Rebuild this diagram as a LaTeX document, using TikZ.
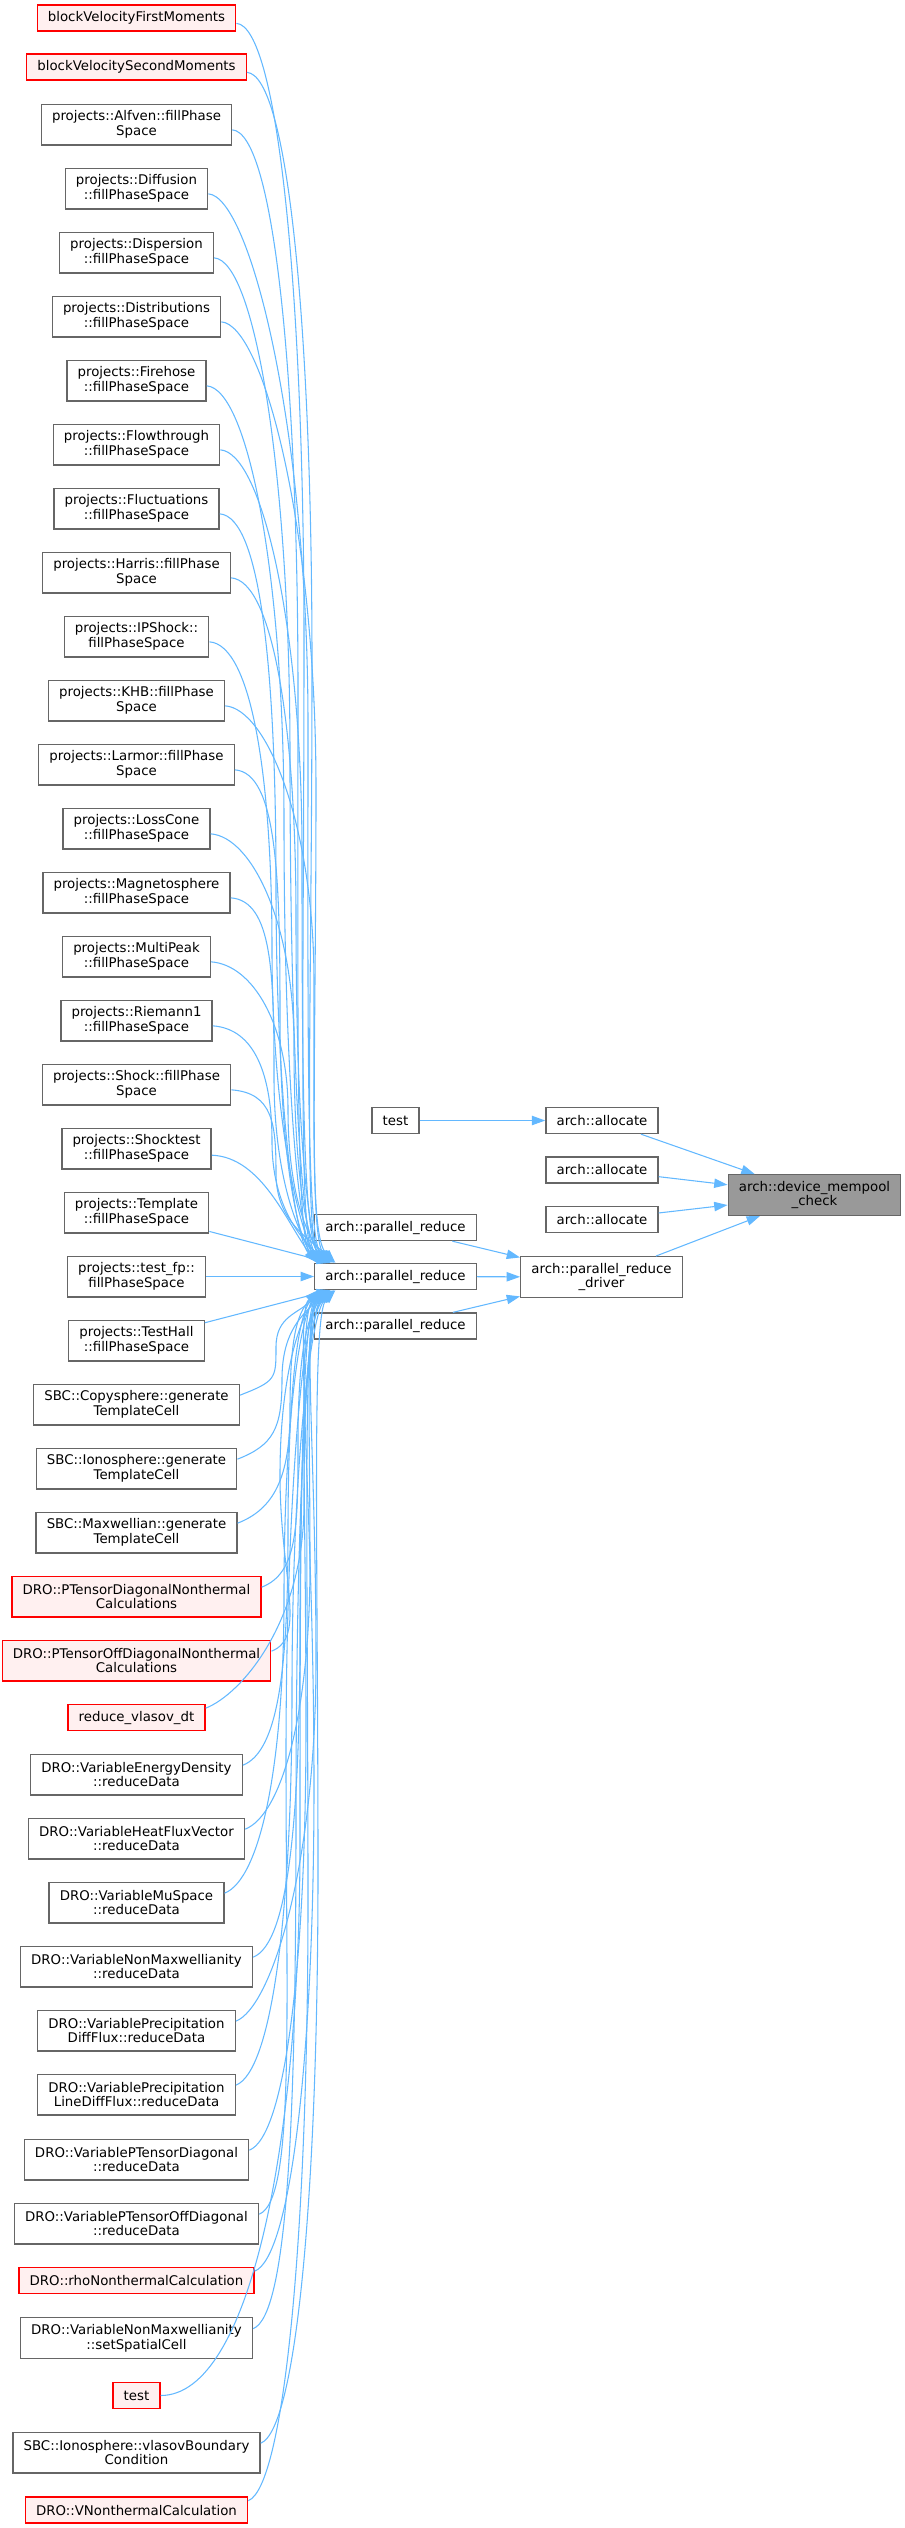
\documentclass[tikz,border=0pt]{standalone}
\usepackage{fontspec}
\setmainfont{DejaVu Sans}
\usetikzlibrary{arrows.meta,calc}
\definecolor{edgeblue}{HTML}{63B8FF}
\definecolor{bordergray}{HTML}{666666}
\definecolor{rootgray}{HTML}{999999}
\definecolor{redfill}{HTML}{FFF0F0}
\definecolor{redline}{HTML}{FF0000}
% upper caller -> top-left of prm
\newcommand{\upedge}[4]{%
  \pgfmathsetmacro\eYm{(#2+1262)/2}%
  \pgfmathsetmacro\eLa{0.55*(\eYm-#2)}%
  \pgfmathsetmacro\eLb{0.55*(1262-\eYm)}%
  \draw[conn] ([yshift=-4pt]#1.east) .. controls +(42,3) and +(0,-\eLa) .. (#3,\eYm) .. controls +(0,\eLb) and +(-24,-24) .. ([xshift=#4pt]prm.north west);%
}
% lower caller -> bottom-left of prm
\newcommand{\lowedge}[4]{%
  \pgfmathsetmacro\eYm{(#2+1290)/2}%
  \pgfmathsetmacro\eLa{0.55*(#2-\eYm)}%
  \pgfmathsetmacro\eLb{0.55*(\eYm-1290)}%
  \draw[conn] ([yshift=7pt]#1.east) .. controls +(36,-14) and +(0,\eLa) .. (#3,\eYm) .. controls +(0,-\eLb) and +(-24,24) .. ([xshift=#4pt]prm.south west);%
}
\begin{document}
\begin{tikzpicture}[x=0.75pt,y=-0.75pt,
  nbox/.style={draw=bordergray, fill=white, line width=1pt, inner xsep=8pt, inner ysep=1pt, align=center, font=\fontsize{10pt}{11pt}\selectfont},
  redbox/.style={nbox, draw=redline, fill=redfill},
  rootbox/.style={nbox, fill=rootgray},
  oneln/.style={minimum height=19.5pt},
  twoln/.style={minimum height=30.5pt},
  conn/.style={draw=edgeblue, line width=0.8pt, -{Triangle[length=10pt,width=7pt]}}]
\useasboundingbox (0,0) rectangle (905,2528);

% ---------- right part ----------
\node[rootbox, twoln] (root) at (814.5,1195) {arch::device\_mempool\\\_check};
\node[nbox, oneln] (al1) at (602,1120.5) {arch::allocate};
\node[nbox, oneln] (al2) at (602,1170) {arch::allocate};
\node[nbox, oneln] (al3) at (602,1219.5) {arch::allocate};
\node[nbox, oneln] (tR) at (395.5,1120.5) {test};
\node[nbox, twoln] (drv) at (601.5,1277) {arch::parallel\_reduce\\\_driver};
\node[nbox, oneln] (prt) at (395.5,1227.5) {arch::parallel\_reduce};
\node[nbox, oneln] (prm) at (395.5,1276.5) {arch::parallel\_reduce};
\node[nbox, oneln] (prb) at (395.5,1326) {arch::parallel\_reduce};

% ---------- left column ----------
\node[redbox, oneln] (n1) at (136.5,18) {blockVelocityFirstMoments};
\node[redbox, oneln] (n2) at (136.5,67) {blockVelocitySecondMoments};
\node[nbox, twoln] (n3) at (136.5,124.5) {projects::Alfven::fillPhase\\Space};
\node[nbox, twoln] (n4) at (136.5,188.5) {projects::Diffusion\\::fillPhaseSpace};
\node[nbox, twoln] (n5) at (136.5,252.5) {projects::Dispersion\\::fillPhaseSpace};
\node[nbox, twoln] (n6) at (136.5,316.5) {projects::Distributions\\::fillPhaseSpace};
\node[nbox, twoln] (n7) at (136.5,380.5) {projects::Firehose\\::fillPhaseSpace};
\node[nbox, twoln] (n8) at (136.5,444.5) {projects::Flowthrough\\::fillPhaseSpace};
\node[nbox, twoln] (n9) at (136.5,508.5) {projects::Fluctuations\\::fillPhaseSpace};
\node[nbox, twoln] (n10) at (136.5,572.5) {projects::Harris::fillPhase\\Space};
\node[nbox, twoln] (n11) at (136.5,636.5) {projects::IPShock::\\fillPhaseSpace};
\node[nbox, twoln] (n12) at (136.5,700.5) {projects::KHB::fillPhase\\Space};
\node[nbox, twoln] (n13) at (136.5,764.5) {projects::Larmor::fillPhase\\Space};
\node[nbox, twoln] (n14) at (136.5,828.5) {projects::LossCone\\::fillPhaseSpace};
\node[nbox, twoln] (n15) at (136.5,892.5) {projects::Magnetosphere\\::fillPhaseSpace};
\node[nbox, twoln] (n16) at (136.5,956.5) {projects::MultiPeak\\::fillPhaseSpace};
\node[nbox, twoln] (n17) at (136.5,1020.5) {projects::Riemann1\\::fillPhaseSpace};
\node[nbox, twoln] (n18) at (136.5,1084.5) {projects::Shock::fillPhase\\Space};
\node[nbox, twoln] (n19) at (136.5,1148.5) {projects::Shocktest\\::fillPhaseSpace};
\node[nbox, twoln] (n20) at (136.5,1212.5) {projects::Template\\::fillPhaseSpace};
\node[nbox, twoln] (n21) at (136.5,1276.5) {projects::test\_fp::\\fillPhaseSpace};
\node[nbox, twoln] (n22) at (136.5,1340.5) {projects::TestHall\\::fillPhaseSpace};
\node[nbox, twoln] (n23) at (136.5,1404.5) {SBC::Copysphere::generate\\TemplateCell};
\node[nbox, twoln] (n24) at (136.5,1468.5) {SBC::Ionosphere::generate\\TemplateCell};
\node[nbox, twoln] (n25) at (136.5,1532.5) {SBC::Maxwellian::generate\\TemplateCell};
\node[redbox, twoln] (n26) at (136.5,1596.5) {DRO::PTensorDiagonalNonthermal\\Calculations};
\node[redbox, twoln] (n27) at (136.5,1660.5) {DRO::PTensorOffDiagonalNonthermal\\Calculations};
\node[redbox, oneln] (n28) at (136.5,1717.5) {reduce\_vlasov\_dt};
\node[nbox, twoln] (n29) at (136.5,1774.5) {DRO::VariableEnergyDensity\\::reduceData};
\node[nbox, twoln] (n30) at (136.5,1838.5) {DRO::VariableHeatFluxVector\\::reduceData};
\node[nbox, twoln] (n31) at (136.5,1902.5) {DRO::VariableMuSpace\\::reduceData};
\node[nbox, twoln] (n32) at (136.5,1966.5) {DRO::VariableNonMaxwellianity\\::reduceData};
\node[nbox, twoln] (n33) at (136.5,2030.5) {DRO::VariablePrecipitation\\DiffFlux::reduceData};
\node[nbox, twoln] (n34) at (136.5,2094.5) {DRO::VariablePrecipitation\\LineDiffFlux::reduceData};
\node[nbox, twoln] (n35) at (136.5,2159.5) {DRO::VariablePTensorDiagonal\\::reduceData};
\node[nbox, twoln] (n36) at (136.5,2223.5) {DRO::VariablePTensorOffDiagonal\\::reduceData};
\node[redbox, oneln] (n37) at (136.5,2280.5) {DRO::rhoNonthermalCalculation};
\node[nbox, twoln] (n38) at (136.5,2338) {DRO::VariableNonMaxwellianity\\::setSpatialCell};
\node[redbox, oneln] (n39) at (136.5,2395.5) {test};
\node[nbox, twoln] (n40) at (136.5,2452.5) {SBC::Ionosphere::vlasovBoundary\\Condition};
\node[redbox, oneln] (n41) at (136.5,2510) {DRO::VNonthermalCalculation};

% ---------- right part edges ----------
\draw[conn] (tR) -- (al1);
\draw[conn] (al1) -- (root);
\draw[conn] (al2) -- (root);
\draw[conn] (al3) -- (root);
\draw[conn] (drv) -- (root);
\draw[conn] (prt) -- (drv);
\draw[conn] (prm) -- (drv);
\draw[conn] (prb) -- (drv);

% ---------- callers of prm ----------
\upedge{n1}{18}{304}{6}
\upedge{n2}{67}{312}{10}
\upedge{n3}{124.5}{298}{4}
\upedge{n4}{188.5}{308}{12}
\upedge{n5}{252.5}{290}{8}
\upedge{n6}{316.5}{316}{14}
\upedge{n7}{380.5}{284}{6}
\upedge{n8}{444.5}{302}{10}
\upedge{n9}{508.5}{276}{3}
\upedge{n10}{572.5}{296}{12}
\upedge{n11}{636.5}{272}{8}
\upedge{n12}{700.5}{314}{16}
\upedge{n13}{764.5}{280}{5}
\upedge{n14}{828.5}{294}{11}
\upedge{n15}{892.5}{274}{7}
\upedge{n16}{956.5}{288}{13}
\upedge{n17}{1020.5}{272}{9}
\upedge{n18}{1084.5}{276}{15}
\draw[conn] ([yshift=-5pt]n19.east) .. controls +(50,2) and +(-30,-40) .. ([xshift=2pt]prm.north west);
\draw[conn] (n20) -- ([xshift=12pt]prm.north west);
\draw[conn] (n21) -- (prm);
\draw[conn] (n22) -- ([xshift=12pt]prm.south west);
\lowedge{n23}{1404.5}{276}{6}
\lowedge{n24}{1468.5}{282}{10}
\lowedge{n25}{1532.5}{290}{4}
\lowedge{n26}{1596.5}{298}{12}
\lowedge{n27}{1660.5}{280}{8}
\lowedge{n28}{1717.5}{304}{14}
\lowedge{n29}{1774.5}{288}{5}
\lowedge{n30}{1838.5}{310}{11}
\lowedge{n31}{1902.5}{284}{7}
\lowedge{n32}{1966.5}{300}{13}
\lowedge{n33}{2030.5}{316}{9}
\lowedge{n34}{2094.5}{292}{15}
\lowedge{n35}{2159.5}{306}{6}
\lowedge{n36}{2223.5}{286}{10}
\lowedge{n37}{2280.5}{314}{3}
\lowedge{n38}{2338}{296}{12}
\draw[conn] (n39.east) .. controls +(90,0) and +(0,300) .. (300,1842) .. controls +(0,-300) and +(-24,24) .. ([xshift=8pt]prm.south west);
\lowedge{n40}{2452.5}{318}{16}
\lowedge{n41}{2510}{308}{9}
\end{tikzpicture}
\end{document}
